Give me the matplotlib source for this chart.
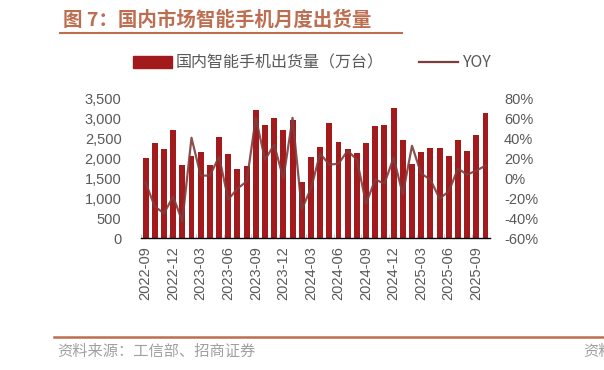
import numpy as np
import matplotlib.pyplot as plt
from matplotlib.lines import Line2D
from matplotlib.patches import Patch

plt.rcParams['font.family'] = ['Liberation Sans', 'Noto Sans CJK SC', 'DejaVu Sans']

# monthly data 2022-09 .. 2025-10
months = ['2022-09', '2022-10', '2022-11', '2022-12', '2023-01', '2023-02', '2023-03',
          '2023-04', '2023-05', '2023-06', '2023-07', '2023-08', '2023-09', '2023-10',
          '2023-11', '2023-12', '2024-01', '2024-02', '2024-03', '2024-04', '2024-05',
          '2024-06', '2024-07', '2024-08', '2024-09', '2024-10', '2024-11', '2024-12',
          '2025-01', '2025-02', '2025-03', '2025-04', '2025-05', '2025-06', '2025-07',
          '2025-08', '2025-09', '2025-10']
shipments = [2010, 2403, 2244, 2713, 1850, 2068, 2177, 1834, 2545, 2110, 1750, 1817,
             3224, 2838, 3014, 2713, 2972, 1422, 2050, 2294, 2889, 2412, 2236, 2135,
             2394, 2814, 2847, 3266, 2470, 1875, 2168, 2261, 2277, 2075, 2462, 2186,
             2588, 3156]
yoy = [-4, -28, -35, -18, -43, 41, 3, 3, 22, -21, -10, -3,
       61, 19, 34, 0, 61, -31, -10, 25, 14, 15, 28, 19,
       -25, -1, -5, 21, -16, 33, 5, -1, -20, -13, 10, 4,
       8, 13]

bar_color = '#A31A1C'
line_color = '#7E3D3D'
grey = '#595959'
title_color = '#BE6E50'

fig = plt.figure(figsize=(6.04, 3.70), dpi=100)
ax = fig.add_axes([0.2334, 0.356, 0.578, 0.3765])
ax2 = ax.twinx()

x = np.arange(len(months))
ax.bar(x, shipments, width=0.65, color=bar_color, zorder=2)
ax2.plot(x, yoy, color=line_color, lw=1.6, alpha=0.9, zorder=3)

ax.set_xlim(-0.5, len(months) - 0.5)
ax.set_ylim(0, 3500)
ax.set_yticks(range(0, 3501, 500))
ax.set_yticklabels([f'{v:,}' for v in range(0, 3501, 500)])
ax2.set_ylim(-60, 80)
ax2.set_yticks(range(-60, 81, 20))
ax2.set_yticklabels([f'{v}%' for v in range(-60, 81, 20)])

ax.set_xticks(x[::3])
ax.set_xticklabels(months[::3], rotation=90)
ax.set_xticks(np.arange(-0.5, len(months), 3), minor=True)
ax.tick_params(axis='x', which='major', length=0, pad=6, labelsize=10.5, labelcolor=grey)
ax.tick_params(axis='x', which='minor', length=3, direction='in', color='#BFBFBF')
ax.tick_params(axis='y', length=0, labelsize=10.5, labelcolor=grey, pad=14)
ax2.tick_params(axis='y', length=0, labelsize=10.5, labelcolor=grey, pad=10)

for a in (ax, ax2):
    for s in ('top', 'left', 'right'):
        a.spines[s].set_visible(False)
ax2.spines['bottom'].set_visible(False)
ax.spines['bottom'].set_color('black')
ax.spines['bottom'].set_linewidth(1.0)

handles = [Patch(color=bar_color), Line2D([0], [0], color=line_color, lw=1.6)]
fig.legend(handles, ['国内智能手机出货量（万台）', 'YOY'], loc='center left',
           bbox_to_anchor=(0.196, 0.83), ncol=2, frameon=False, columnspacing=2.2,
           handlelength=2.45, handleheight=0.8, handletextpad=0.25,
           prop={'family': ['Noto Sans CJK SC'], 'size': 11.5}, labelcolor=grey)

# title and underline
fig.text(0.104, 0.945, '图 7：国内市场智能手机月度出货量', fontsize=14, fontweight='bold',
         color=title_color, family=['Noto Sans CJK SC'], va='center')
fig.add_artist(Line2D([0.1, 0.665], [0.91, 0.91], color=title_color, lw=1.5))

# footer
fig.add_artist(Line2D([0.09, 1.0], [0.088, 0.088], color=title_color, lw=1.8))
fig.text(0.095, 0.05, '资料来源：工信部、招商证券', fontsize=11, color='#A0A0A0',
         family=['Noto Sans CJK SC'], va='center')
fig.text(0.965, 0.05, '资料', fontsize=11, color='#A0A0A0',
         family=['Noto Sans CJK SC'], va='center')

fig.savefig('out.png', dpi=100)
